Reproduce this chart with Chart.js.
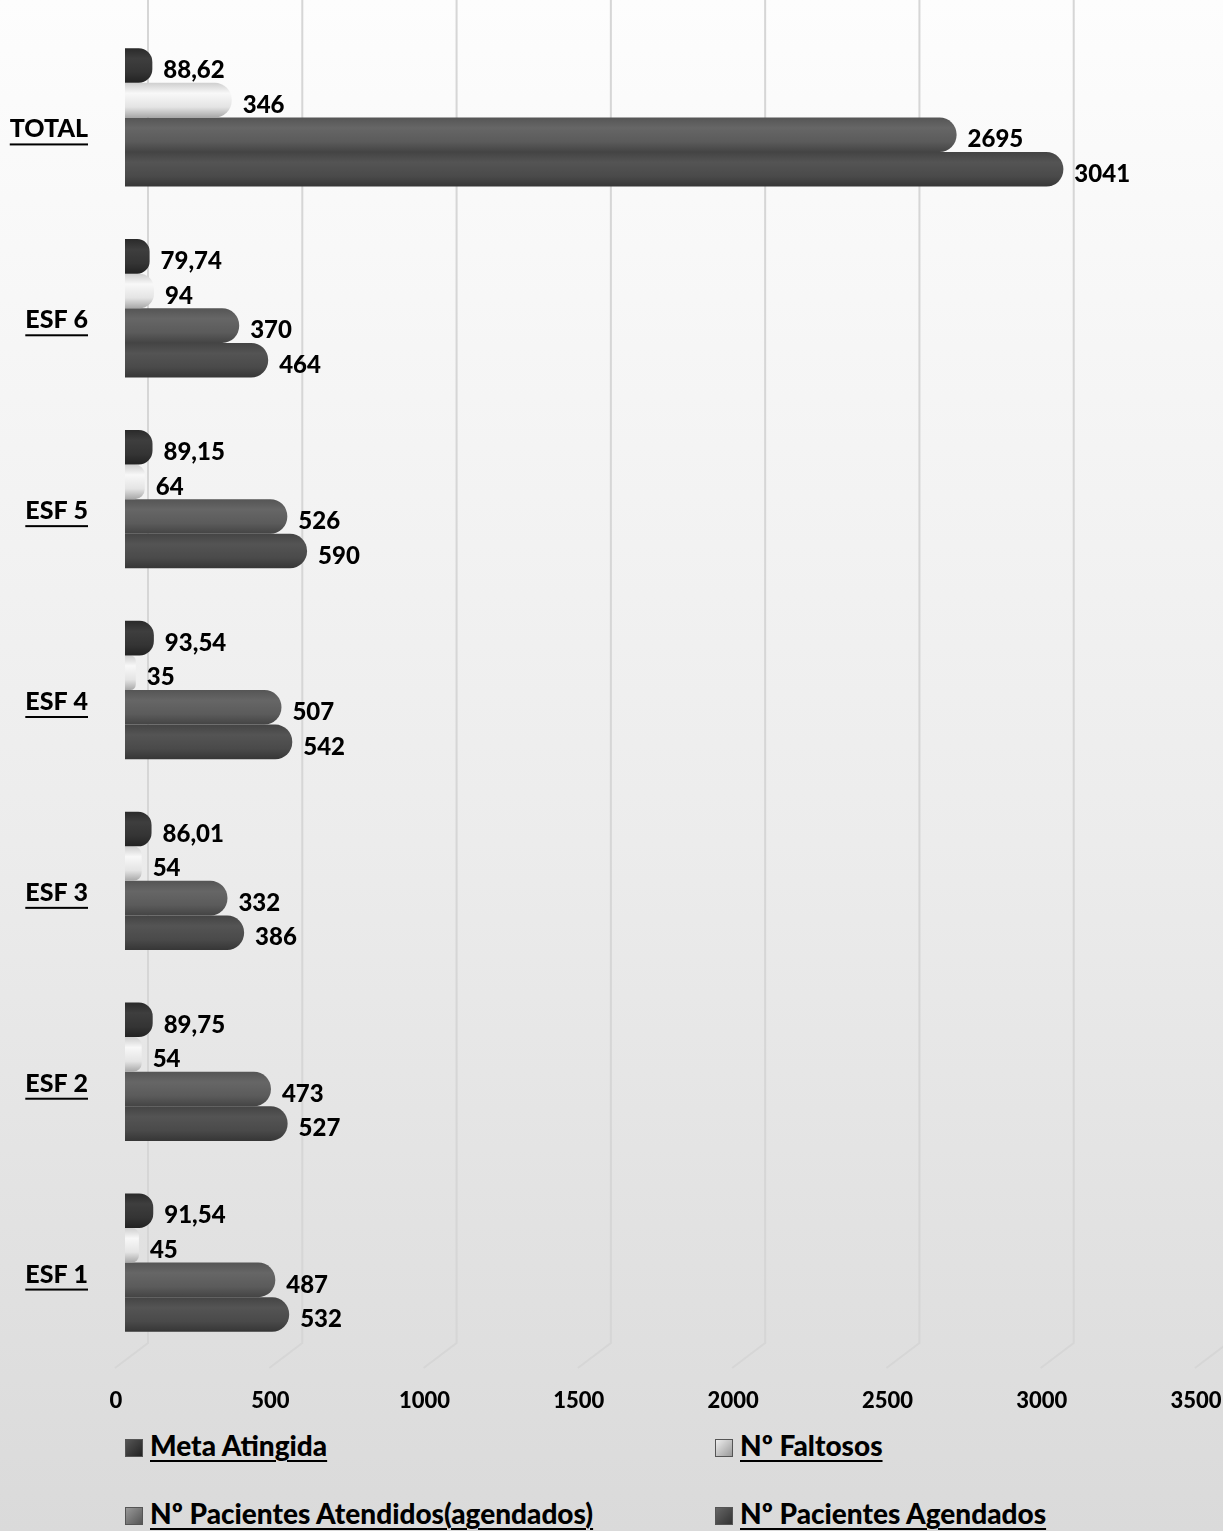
<!DOCTYPE html>
<html>
<head>
<meta charset="utf-8">
<script src="https://cdn.jsdelivr.net/npm/chart.js@4.4.0/dist/chart.umd.min.js"></script>
<style>
  body { margin: 0; width: 1223px; height: 1531px; overflow: hidden;
         background: linear-gradient(#fdfdfd 0%, #ececec 55%, #dadada 100%);
         font-family: Lato, "Open Sans", sans-serif; }
  #wrap { position: absolute; left: 0; top: 0; width: 1223px; height: 1425px; }
  #legend { position: absolute; left: 0; top: 1425px; width: 1223px; height: 106px; }
  .item { position: absolute; font-weight: 900; font-size: 28px; color: #000;
          text-decoration: underline; text-decoration-thickness: 2px; text-underline-offset: 4px;
          white-space: nowrap; line-height: 30px; }
  .box { display: inline-block; width: 18px; height: 18px; margin-right: 7px; vertical-align: -1px;
         border: 1px solid #555; box-sizing: border-box; }
</style>
</head>
<body>
<div id="wrap"><canvas id="canvas" width="1223" height="1425"></canvas></div>
<div id="legend"></div>
<script>
// dados
var categories = ['TOTAL', 'ESF 6', 'ESF 5', 'ESF 4', 'ESF 3', 'ESF 2', 'ESF 1'];
var metaAtingida = [88.62, 79.74, 89.15, 93.54, 86.01, 89.75, 91.54];
var faltosos = [346, 94, 64, 35, 54, 54, 45];
var atendidos = [2695, 370, 526, 507, 332, 473, 487];
var agendados = [3041, 464, 590, 542, 386, 527, 532];
var xMin = 0, xMax = 3500, xStep = 500;

var seriesNames = ['Meta Atingida', 'Nº Faltosos', 'Nº Pacientes Atendidos(agendados)', 'Nº Pacientes Agendados'];
var baseColors = ['#333333', '#eeeeee', '#5c5c5c', '#4a4a4a'];
// cilindro: cores de cima pra baixo
var shades = [
    ['#2a2a2a', '#3e3e3e', '#343434', '#222222'],
    ['#cfcfcf', '#f8f8f8', '#e4e4e4', '#a8a8a8'],
    ['#555555', '#666666', '#5b5b5b', '#444444'],
    ['#444444', '#545454', '#4a4a4a', '#363636']
];
var legendBoxes = [
    'linear-gradient(135deg,#555,#222)',
    'linear-gradient(135deg,#eee,#999)',
    'linear-gradient(135deg,#999,#555)',
    'linear-gradient(135deg,#666,#333)'
];
var FONT = 'Lato, "Open Sans", sans-serif';

function fmt(di, v) {
    if (di == 0) return v.toFixed(2).replace('.', ',');
    return String(v);
}

var cylinderPlugin = {
    id: 'cylinder',
    beforeDatasetsDraw: function(chart) {
        var ctx = chart.ctx;
        chart.data.datasets.forEach(function(ds, i) {
            chart.getDatasetMeta(i).data.forEach(function(el) {
                var top = el.y - el.height / 2;
                var g = ctx.createLinearGradient(0, top, 0, top + el.height);
                g.addColorStop(0, shades[i][0]);
                g.addColorStop(0.3, shades[i][1]);
                g.addColorStop(0.7, shades[i][2]);
                g.addColorStop(1, shades[i][3]);
                el.options.backgroundColor = g;
            });
        });
    }
};

var gridPlugin = {
    id: 'grid3d',
    beforeDatasetsDraw: function(chart) {
        var ctx = chart.ctx, x = chart.scales.x, area = chart.chartArea;
        ctx.save();
        ctx.strokeStyle = '#d6d6d6';
        ctx.lineWidth = 2;
        for (var v = xMin; v <= xMax; v += xStep) {
            var fx = x.getPixelForValue(v);
            ctx.beginPath();
            ctx.moveTo(fx + 23, 0);
            ctx.lineTo(fx + 23, area.bottom - 15);
            ctx.lineTo(fx - 10, area.bottom + 10);
            ctx.stroke();
        }
        ctx.restore();
    }
};

var labelPlugin = {
    id: 'valueLabels',
    afterDatasetsDraw: function(chart) {
        var ctx = chart.ctx;
        ctx.save();
        ctx.fillStyle = '#000';
        ctx.font = '900 24px ' + FONT;
        ctx.textAlign = 'left';
        ctx.textBaseline = 'middle';
        chart.data.datasets.forEach(function(ds, i) {
            chart.getDatasetMeta(i).data.forEach(function(el, j) {
                ctx.fillText(fmt(i, ds.data[j]), el.x + 11, el.y + 5);
            });
        });
        ctx.restore();
    },
    afterDraw: function(chart) {
        // sublinhado das categorias
        var ctx = chart.ctx, y = chart.scales.y;
        ctx.save();
        ctx.font = '900 25px ' + FONT;
        ctx.fillStyle = '#000';
        y.ticks.forEach(function(t, i) {
            var w = ctx.measureText(categories[i]).width;
            var cy = y.getPixelForTick(i) + 12;
            ctx.fillRect(88 - w, cy + 14, w, 2);
        });
        ctx.restore();
    }
};

window.onload = function() {
    var ctx = document.getElementById('canvas').getContext('2d');
    var datasets = [metaAtingida, faltosos, atendidos, agendados].map(function(d, i) {
        return {
            label: seriesNames[i],
            data: d,
            backgroundColor: function() { return baseColors[i]; },
            borderWidth: 0,
            borderRadius: 17,
            borderSkipped: 'start',
            categoryPercentage: 0.725,
            barPercentage: 1.0
        };
    });
    window.myBar = new Chart(ctx, {
        type: 'bar',
        data: { labels: categories, datasets: datasets },
        options: {
            indexAxis: 'y',
            responsive: false,
            animation: false,
            devicePixelRatio: 1,
            layout: { padding: { top: 22, right: 18, left: 0, bottom: 0 } },
            plugins: { legend: { display: false }, tooltip: { enabled: false } },
            scales: {
                x: {
                    min: xMin, max: xMax,
                    grid: { display: false, drawTicks: false },
                    border: { display: false },
                    ticks: { stepSize: xStep, padding: 30, labelOffset: -9, color: '#000',
                             callback: function(v) { return String(v); },
                             font: { family: FONT, size: 22, weight: '900' } },
                    afterFit: function(s) { s.height = 67; s.paddingLeft = 0; s.paddingRight = 0; }
                },
                y: {
                    grid: { display: false, drawTicks: false },
                    border: { display: false },
                    ticks: { padding: 37, labelOffset: 12, color: '#000',
                             font: { family: FONT, size: 25, weight: '900' } },
                    afterFit: function(s) { s.width = 125; s.paddingTop = 0; s.paddingBottom = 0; }
                }
            }
        },
        plugins: [gridPlugin, cylinderPlugin, labelPlugin]
    });

    // legenda em duas colunas
    var pos = [[125, 12], [715, 12], [125, 80], [715, 80]];
    var leg = document.getElementById('legend');
    window.myBar.data.datasets.forEach(function(ds, i) {
        var d = document.createElement('div');
        d.className = 'item';
        d.style.left = pos[i][0] + 'px';
        d.style.top = (pos[i][1] - 15 + 8) + 'px';
        var b = document.createElement('span');
        b.className = 'box';
        b.style.background = legendBoxes[i];
        d.appendChild(b);
        var t = document.createElement('span');
        t.textContent = ds.label;
        d.appendChild(t);
        leg.appendChild(d);
    });
};
</script>
</body>
</html>
